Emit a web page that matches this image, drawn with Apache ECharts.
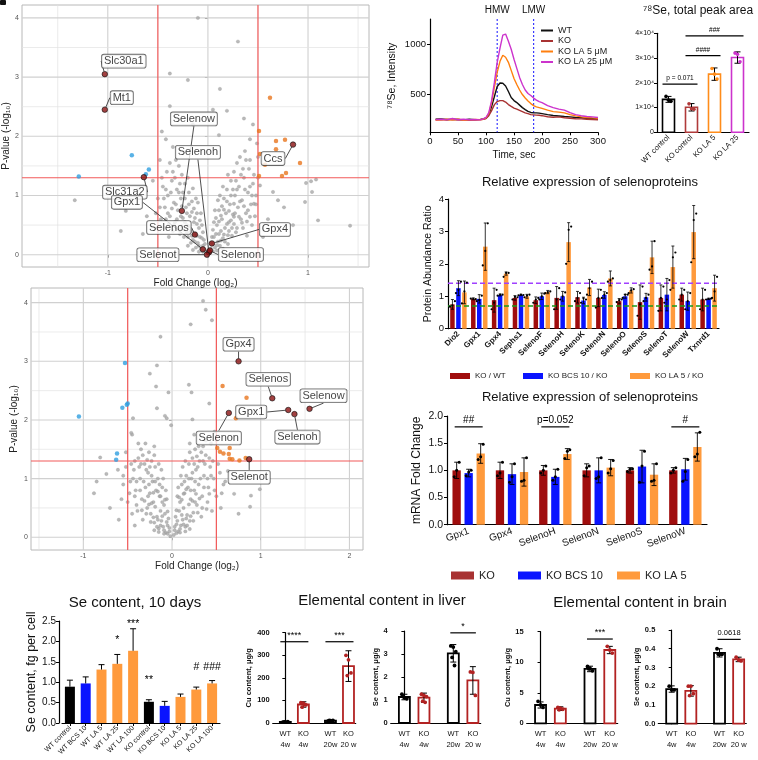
<!DOCTYPE html>
<html><head><meta charset="utf-8">
<script src="https://cdn.jsdelivr.net/npm/echarts@6/dist/echarts.min.js"></script>
<style>html,body{margin:0;padding:0;background:#fff}#c{width:758px;height:760px}</style>
</head><body><div id="c"></div>
<script>
const FONT = 'Liberation Sans, Arial, Helvetica, sans-serif';

// ================= DATA =================
// --- Volcano A (top-left) ---
const vA_gray = [[-0.1,4.0],[0.3,3.6],[-0.38,3.06],[-0.2,2.95],[0.12,2.8],[0.19,2.43],[-0.38,2.51],[-0.46,2.08],[0.11,2.02],[0.49,1.88],[-0.35,1.82],[1.03,1.24],[1.08,1.27],[0.98,1.21],[1.04,1.06],[0.97,0.89],[1.1,0.58],[1.42,0.49],[-1.33,0.92],[-0.82,0.74],[-0.87,0.4],[-0.61,0.65],[0.52,1.17],[0.65,1.06],[0.7,0.92],[0.46,0.86],[0.76,0.8],[0.26,0.64],[-0.7,1.1],[-0.55,1.25],[0.6,0.6],[0.85,0.5],[-0.65,0.35],[0.55,0.3],[-0.48,1.6],[-0.42,1.95],[0.45,2.2],[0.36,2.3],[-0.15,2.2],[0.05,2.45],[0.42,1.95],[0.5,1.65],
[-0.02,0.02],[-0.03,0.08],[-0.05,0.15],[-0.04,0.25],[-0.07,0.1],[-0.08,0.3],[-0.1,0.2],[-0.09,0.45],[-0.12,0.12],[-0.13,0.35],[-0.15,0.25],[-0.14,0.55],[-0.17,0.4],[-0.18,0.65],[-0.2,0.3],[-0.21,0.5],[-0.22,0.8],[-0.24,0.42],[-0.25,0.62],[-0.27,0.95],[-0.28,0.35],[-0.3,0.75],[-0.31,1.1],[-0.33,0.55],[-0.34,0.88],[-0.36,1.25],[-0.38,0.65],[-0.4,1.0],[-0.41,1.4],[-0.43,0.8],[-0.45,1.15],[-0.47,0.6],[-0.16,0.9],[-0.19,1.05],[-0.23,1.2],[-0.26,1.35],[-0.29,1.5],[-0.32,1.6],[-0.11,0.7],[-0.06,0.5],[-0.12,0.95],[-0.35,0.4],[-0.39,0.3],[-0.44,0.45],[-0.5,0.95],[-0.52,0.7],
[0.02,0.03],[0.03,0.1],[0.05,0.18],[0.04,0.3],[0.07,0.12],[0.08,0.35],[0.1,0.22],[0.09,0.5],[0.12,0.15],[0.13,0.4],[0.15,0.28],[0.14,0.6],[0.17,0.45],[0.18,0.7],[0.2,0.33],[0.21,0.55],[0.22,0.85],[0.24,0.45],[0.25,0.68],[0.27,1.0],[0.28,0.38],[0.3,0.8],[0.31,1.15],[0.33,0.6],[0.34,0.92],[0.36,1.3],[0.38,0.7],[0.4,1.05],[0.41,1.45],[0.43,0.85],[0.45,1.2],[0.47,0.65],[0.16,0.95],[0.19,1.1],[0.23,1.25],[0.26,1.4],[0.29,1.55],[0.32,1.65],[0.11,0.75],[0.06,0.55],[0.12,1.0],[0.35,0.45],[0.39,0.32],[0.44,0.5],[0.48,1.0],[0.5,1.3],[0.37,1.75],[0.42,1.6],
[-0.03,0.18],[-0.05,0.38],[-0.06,0.28],[-0.08,0.58],[-0.09,0.15],[-0.11,0.32],[-0.11,0.52],[-0.13,0.22],[-0.13,0.62],[-0.14,0.78],[-0.16,0.32],[-0.16,0.72],[-0.17,0.2],[-0.19,0.48],[-0.19,0.85],[-0.21,0.38],[-0.21,0.7],[-0.23,0.55],[-0.23,0.95],[-0.24,0.3],[-0.26,0.48],[-0.26,0.82],[-0.27,0.65],[-0.29,0.42],[-0.29,1.05],[-0.31,0.6],[-0.32,0.85],[-0.33,1.3],[-0.34,0.5],[-0.36,0.78],[-0.37,1.05],[-0.39,0.52],[-0.4,0.7],[-0.42,0.6],[-0.42,1.1],[-0.44,0.95],[-0.46,1.3],[-0.48,0.8],[-0.2,1.3],[-0.25,1.05],[-0.28,1.2],[-0.35,1.4],[-0.38,1.55],[-0.15,1.12],[-0.1,0.88],[-0.07,0.7],[-0.05,0.05],[-0.09,0.05],[-0.15,0.08],[-0.2,0.15],
[0.03,0.2],[0.05,0.42],[0.06,0.3],[0.08,0.62],[0.09,0.16],[0.11,0.35],[0.11,0.56],[0.13,0.24],[0.13,0.66],[0.14,0.82],[0.16,0.34],[0.16,0.76],[0.17,0.22],[0.19,0.52],[0.19,0.9],[0.21,0.4],[0.21,0.74],[0.23,0.58],[0.23,1.0],[0.24,0.32],[0.26,0.52],[0.26,0.86],[0.27,0.7],[0.29,0.45],[0.29,1.1],[0.31,0.64],[0.32,0.9],[0.33,1.35],[0.34,0.54],[0.36,0.82],[0.37,1.1],[0.39,0.56],[0.4,0.75],[0.42,0.64],[0.42,1.15],[0.44,1.0],[0.46,1.35],[0.48,0.85],[0.2,1.35],[0.25,1.1],[0.28,1.25],[0.35,1.45],[0.38,1.6],[0.15,1.15],[0.1,0.92],[0.07,0.75],[0.05,0.06],[0.09,0.07],[0.15,0.1],[0.2,0.18]];
const vA_up = [[0.62,2.65],[0.51,2.09],[0.68,1.92],[0.77,1.94],[0.68,1.78],[0.52,1.7],[0.57,1.52],[0.92,1.55],[0.51,1.33],[0.74,1.33],[0.78,1.38]];
const vA_down = [[-1.29,1.32],[-0.76,1.68],[-0.62,1.36],[-0.59,1.44]];
const vA_genes = ['Slc30a1','Mt1','Slc31a2','Gpx1','Selenow','Selenoh','Selenos','Selenot','Selenon','Gpx4','Ccs'];
const vA_fc = [-1.03,-1.03,-0.64,-0.05,-0.26,0.01,-0.13,-0.01,0.02,0.04,0.85];
const vA_p  = [3.05,2.45,1.31,0.09,0.74,0.04,0.34,0.0,0.07,0.19,1.86];
const vA_xTicks = [-1,0,1], vA_xMinor = [-1.5,-0.5,0.5,1.5];
const vA_yTicks = [0,1,2,3,4], vA_yMinor = [0.5,1.5,2.5,3.5];

// --- Volcano B (middle-left) ---
const vB_gray = [[0.35,4.03],[0.38,3.88],[0.45,3.7],[0.21,3.63],[-0.13,3.42],[-0.17,2.93],[-0.25,2.79],[-0.18,2.57],[0.19,2.6],[0.22,2.47],[-0.04,2.47],[0.42,2.28],[-0.17,2.2],[-0.08,2.07],[-0.06,2.03],[-0.44,2.03],[-0.01,1.91],[0.23,2.01],[0.99,0.82],[0.88,0.52],[-0.88,0.75],[-0.85,0.95],[-0.81,1.36],[-0.74,1.08],[-0.61,1.15],[0.89,0.71],[0.7,0.74],[0.78,1.02],[0.63,1.13],[-0.45,1.75],[-0.46,1.78],[0.48,1.8],[0.5,1.65],[-0.7,0.5],[-0.6,0.3],[0.75,0.4],[-0.55,0.9],[0.6,0.95],[-0.52,1.45],[-0.3,1.6],[0.25,1.75],[0.3,1.55],
[-0.02,0.02],[-0.03,0.1],[-0.05,0.2],[-0.04,0.32],[-0.07,0.08],[-0.08,0.4],[-0.1,0.18],[-0.09,0.55],[-0.12,0.28],[-0.13,0.45],[-0.15,0.15],[-0.14,0.7],[-0.17,0.35],[-0.18,0.8],[-0.2,0.25],[-0.21,0.6],[-0.22,0.95],[-0.24,0.4],[-0.25,0.75],[-0.27,1.1],[-0.28,0.5],[-0.3,0.85],[-0.31,1.25],[-0.33,0.3],[-0.34,0.65],[-0.36,1.0],[-0.38,1.35],[-0.4,0.55],[-0.41,0.8],[-0.43,1.15],[-0.45,0.4],[-0.47,0.95],[-0.16,1.0],[-0.19,1.2],[-0.23,1.3],[-0.26,1.45],[-0.11,0.85],[-0.06,0.65],[-0.35,1.5],[-0.5,0.6],[-0.52,1.2],[-0.12,1.15],[-0.2,1.55],[-0.42,0.2],
[0.02,0.04],[0.03,0.12],[0.05,0.22],[0.04,0.35],[0.07,0.1],[0.08,0.45],[0.1,0.2],[0.09,0.6],[0.12,0.3],[0.13,0.5],[0.15,0.18],[0.14,0.75],[0.17,0.38],[0.18,0.85],[0.2,0.28],[0.21,0.65],[0.22,1.0],[0.24,0.42],[0.25,0.8],[0.27,1.15],[0.28,0.55],[0.3,0.9],[0.31,1.3],[0.33,0.35],[0.34,0.7],[0.36,1.05],[0.38,1.4],[0.4,0.6],[0.41,0.85],[0.43,1.2],[0.45,0.45],[0.47,1.0],[0.16,1.05],[0.19,1.25],[0.23,1.35],[0.26,1.5],[0.11,0.9],[0.06,0.7],[0.35,1.55],[0.5,0.7],[0.52,1.25],[0.12,1.2],[0.2,1.6],[0.55,0.5],[0.58,0.9],[0.44,1.6],
[-0.03,0.16],[-0.05,0.44],[-0.06,0.26],[-0.08,0.64],[-0.09,0.12],[-0.11,0.36],[-0.11,0.6],[-0.13,0.2],[-0.13,0.7],[-0.14,0.9],[-0.16,0.3],[-0.16,0.78],[-0.17,0.18],[-0.19,0.52],[-0.19,0.95],[-0.21,0.34],[-0.21,0.76],[-0.23,0.58],[-0.23,1.05],[-0.24,0.26],[-0.26,0.56],[-0.26,0.9],[-0.27,0.7],[-0.29,0.4],[-0.29,1.15],[-0.31,0.62],[-0.32,0.95],[-0.33,1.4],[-0.34,0.46],[-0.36,0.8],[-0.37,1.2],[-0.39,0.45],[-0.4,0.95],[-0.42,0.7],[-0.42,1.3],[-0.44,1.0],[-0.46,1.25],[-0.48,0.75],[-0.2,1.4],[-0.25,1.2],[-0.28,1.32],[-0.35,1.25],[-0.38,1.6],[-0.15,1.25],[-0.1,1.0],[-0.07,0.8],[-0.05,0.06],[-0.09,0.06],[-0.15,0.09],[-0.2,0.12],
[0.03,0.18],[0.05,0.46],[0.06,0.28],[0.08,0.68],[0.09,0.14],[0.11,0.38],[0.11,0.64],[0.13,0.22],[0.13,0.74],[0.14,0.95],[0.16,0.32],[0.16,0.82],[0.17,0.2],[0.19,0.56],[0.19,1.0],[0.21,0.36],[0.21,0.8],[0.23,0.62],[0.23,1.1],[0.24,0.28],[0.26,0.6],[0.26,0.95],[0.27,0.74],[0.29,0.42],[0.29,1.2],[0.31,0.66],[0.32,1.0],[0.33,1.45],[0.34,0.5],[0.36,0.85],[0.37,1.25],[0.39,0.48],[0.4,1.0],[0.42,0.74],[0.42,1.35],[0.44,1.05],[0.46,1.3],[0.48,0.8],[0.2,1.45],[0.25,1.25],[0.28,1.38],[0.35,1.3],[0.38,1.65],[0.15,1.3],[0.1,1.05],[0.07,0.85],[0.05,0.07],[0.09,0.08],[0.15,0.1],[0.2,0.14],[0.54,1.1],[0.56,0.75],[-0.55,1.05],[-0.57,0.65]];
const vB_up = [[0.57,2.58],[0.84,2.38],[0.72,2.03],[0.51,1.52],[0.54,1.46],[0.58,1.43],[0.64,1.42],[0.65,1.52],[0.65,1.34],[0.68,1.33],[0.76,1.31],[0.83,1.35]];
const vB_down = [[-0.53,2.97],[-0.5,2.28],[-0.51,2.26],[-0.56,2.21],[-1.05,2.06],[-0.62,1.43],[-0.63,1.32]];
const vB_genes = ['Gpx4','Selenos','Selenow','Gpx1','Selenoh','Selenon','Selenot'];
const vB_fc = [0.75,1.13,1.55,1.31,1.38,0.64,0.87];
const vB_p  = [3.0,2.37,2.19,2.17,2.1,2.12,1.33];
const vB_xTicks = [-1,0,1,2], vB_xMinor = [-1.5,-0.5,0.5,1.5];
const vB_yTicks = [0,1,2,3,4], vB_yMinor = [0.5,1.5,2.5,3.5];
const volcanoCut = {fc:[-0.5,0.5], p:1.3};

// --- 78Se chromatogram ---
const timeSec = [10,20,30,40,50,60,70,80,90,95,100,105,110,115,120,125,130,135,140,145,150,155,160,165,170,175,180,185,190,195,200,210,220,230,240,250,260,270,280,290,300];
const seWT   = [255,258,250,256,252,248,255,250,253,258,265,300,380,480,580,615,612,585,530,470,440,420,395,370,350,332,322,318,318,315,310,300,292,287,282,278,272,270,265,262,260];
const seKO   = [252,250,255,248,252,250,245,250,252,255,262,290,340,400,430,440,440,425,400,382,365,355,342,330,318,310,300,298,296,294,290,280,275,278,270,265,260,258,255,252,250];
const seLA5  = [245,248,252,250,255,245,248,252,250,255,268,310,420,570,720,830,890,870,820,740,660,600,545,500,465,435,410,390,378,370,362,345,330,325,318,300,288,278,272,268,265];
const seLA25 = [250,255,248,262,250,255,250,252,248,258,272,320,440,620,820,960,1090,1100,1030,950,850,760,670,600,545,510,490,465,445,430,420,390,370,355,345,320,300,290,282,278,272];
const chromNames = ['WT','KO','KO LA 5 μM','KO LA 25 μM'];
const fractionBounds = [120,185], fractionNames = ['HMW','LMW'];
const chromYTicks = [500,1000];

// --- 78Se total peak area ---
const peakCats = ['WT control','KO control','KO LA 5','KO LA 25'];
const peakVals = [13300,10100,23500,30200];
const peakSd = [1200,1500,2500,2300];
const peakPts = [[14500,13000,12500],[11500,9500,9300],[25800,23500,21500],[32000,31500,28500]];
const peakSig = [{a:0,b:1,y:19500,t:'p = 0.071'},{a:1,b:2,y:31000,t:'####'},{a:1,b:3,y:39000,t:'###'}];

// --- Protein selenoproteins ---
const protCats = ['Dio2','Gpx1','Gpx4','Sephs1','SelenoF','SelenoH','SelenoK','SelenoN','SelenoO','SelenoS','SelenoT','SelenoW','Txnrd1'];
const protNames = ['KO / WT','KO BCS 10 / KO','KO LA 5 / KO'];
const protKO  = [0.75,0.92,0.88,0.95,0.88,0.95,0.97,0.95,0.85,0.82,0.95,1.05,0.9];
const protBCS = [1.25,0.92,1.04,1.04,1.0,1.0,0.87,1.04,1.0,0.97,1.05,0.85,0.92];
const protLA  = [1.12,2.53,1.7,1.0,1.13,2.67,1.27,1.55,1.18,2.2,1.9,2.98,1.25];
const protKOsd  = [0.15,0.03,0.37,0.07,0.1,0.35,0.18,0.27,0.08,0.53,0.4,0.2,0.35];
const protBCSsd = [0.23,0.13,0.03,0.02,0.1,0.15,0.1,0.1,0.06,0.12,0.5,0.28,0.02];
const protLAsd  = [0.35,0.73,0.05,0.06,0.05,0.6,0.25,0.23,0.08,0.5,0.65,0.82,0.4];
const protKOpts  = [[0.68,0.72,0.85],[0.93,0.92,0.91],[0.6,0.8,1.2],[0.9,0.98,0.97],[0.8,0.9,0.95],[0.6,0.9,1.25],[0.85,0.95,1.1],[0.65,0.95,1.2],[0.82,0.88,0.9],[0.4,0.75,1.3],[0.55,0.95,1.3],[0.9,1.05,1.2],[0.6,0.9,1.2]];
const protBCSpts = [[1.1,1.2,1.45],[0.85,0.88,1.02],[1.02,1.05,1.05],[1.03,1.05,1.04],[0.9,1.0,1.08],[0.9,1.0,1.12],[0.8,0.93,0.9],[0.95,1.05,1.1],[0.95,1.05,1.05],[0.85,0.95,1.05],[0.8,0.9,1.5],[0.6,0.85,1.1],[0.9,0.92,0.93]];
const protLApts  = [[0.78,1.15,1.42],[1.95,2.4,3.25],[1.6,1.72,1.72],[0.97,1.02,1.05],[1.1,1.13,1.15],[2.0,3.05,3.15],[1.05,1.25,1.45],[1.45,1.5,1.55],[1.1,1.18,1.22],[1.82,1.92,2.7],[1.2,2.2,2.35],[2.05,3.35,3.55],[0.95,1.15,1.6]];
const protThresholds = [1.4,0.7];

// --- mRNA selenoproteins ---
const mrnaCats = ['Gpx1','Gpx4','SelenoH','SelenoN','SelenoS','SelenoW'];
const mrnaNames = ['KO','KO BCS 10','KO LA 5'];
const mKO  = [1.0,1.0,1.0,1.0,1.0,1.0];
const mBCS = [0.95,0.93,0.88,1.0,1.07,1.02];
const mLA  = [1.31,0.97,1.3,1.05,0.92,1.43];
const mKOsd  = [0.15,0.15,0.09,0.12,0.05,0.05];
const mBCSsd = [0.07,0.19,0.14,0.23,0.3,0.2];
const mLAsd  = [0.18,0.26,0.1,0.15,0.2,0.26];
const mKOpts  = [[0.88,1.0,1.15],[0.9,0.95,1.15],[0.95,1.0,1.08],[0.9,1.05,1.08],[0.98,1.02,1.03],[0.95,1.0,1.05]];
const mBCSpts = [[0.9,0.97,1.0],[0.78,0.88,1.12],[0.82,0.88,1.02],[0.85,0.88,1.23],[0.78,1.08,1.35],[0.8,0.98,1.2]];
const mLApts  = [[1.2,1.25,1.48],[0.8,0.82,1.23],[1.22,1.35,1.38],[0.95,1.03,1.18],[0.8,0.82,1.12],[1.25,1.3,1.7]];
const mrnaSig = [{c:0,y:1.8,t:'##'},{c:2,y:1.8,t:'p=0.052'},{c:5,y:1.8,t:'#'}];

// --- Se content, 10 days ---
const seCats = ['WT control','WT BCS 10','WT LA 5','WT LA 25','WT LA 100','KO control','KO BCS 10','KO LA 5','KO LA 25','KO LA 100'];
const seVals = [0.89,0.97,1.31,1.45,1.77,0.52,0.42,0.64,0.82,0.97];
const seErr  = [0.16,0.16,0.12,0.23,0.54,0.05,0.11,0.07,0.06,0.07];
const seSigText = ['','','','*','***','**','','','#','###'];
const seSigY    = [0,0,0,2.02,2.42,1.05,0,0,1.38,1.38];

// --- Elemental content (liver / brain) ---
const metalCats = ['WT\n4w','KO\n4w','WT\n20w','KO\n20 w'];
const metalPos = [0,1,2.5,3.5];
const cuLiver = [5,82,10,252], cuLiverSd = [2,12,3,68];
const cuLiverPts = [[4,5,6,5],[90,88,80,70,82],[8,10,12,11],[300,280,222,210]];
const seLiver = [1.13,1.1,3.03,1.85], seLiverSd = [0.12,0.2,0.38,0.6];
const seLiverPts = [[1.25,1.1,1.05,1.15],[1.25,1.2,1.15,0.95,0.9],[3.35,3.3,3.1,2.85,2.5],[2.22,2.2,1.2]];
const cuBrain = [3.0,2.4,8.9,12.0], cuBrainSd = [0.5,0.3,0.45,0.6];
const cuBrainPts = [[3.6,3.0,2.6],[2.6,2.5,2.3,2.2],[9.3,9.0,8.6,8.9],[12.6,12.0,11.5]];
const seBrain = [0.185,0.175,0.378,0.343], seBrainSd = [0.017,0.028,0.022,0.012];
const seBrainPts = [[0.2,0.18,0.18],[0.2,0.2,0.16,0.15],[0.4,0.37,0.37,0.37],[0.355,0.34,0.335]];
const cuLiverSig = [{a:0,b:1,y:360,t:'****'},{a:2.5,b:3.5,y:360,t:'***'}];
const seLiverSig = [{a:2.5,b:3.5,y:3.92,t:'*'}];
const cuBrainSig = [{a:2.5,b:3.5,y:13.8,t:'***'}];
const seBrainSig = [{a:2.5,b:3.5,y:0.45,t:'0.0618'}];

// ================= LAYOUT / STYLE =================
const C = {red:'#a00d0d', blue:'#0a14ff', orange:'#ff9a3c', black:'#000', koOut:'#b22222', mag:'#cc33cc'};
const vA_shift = [[19,-13],[17,-12],[-19,15],[-76,-47],[12,-92],[-11,-100],[-26,-7],[-49,0],[31,4],[63,-14],[-20,14]];
const vB_shift = [[0,-17],[-4,-19],[14,-13],[-37,2],[3,23],[-10,25],[0,18]];
const JIT = [-2.5,0,2.5,-1.2,1.2];

const chart = echarts.init(document.getElementById('c'), null, {renderer:'canvas'});
const grid=[], xAxis=[], yAxis=[], series=[], legend=[], graphic=[];
function addPanel(g, xa, ya){
  grid.push(g); const gi = grid.length-1; xa.gridIndex = gi; ya.gridIndex = gi;
  xAxis.push(xa); yAxis.push(ya);
  return {xAxisIndex:xAxis.length-1, yAxisIndex:yAxis.length-1};
}
const tStyle = (s, extra) => Object.assign({fontSize:s, color:'#111', fontFamily:FONT}, extra||{});
function vLines(ax, vals, color, width, z, dash, labels){
  series.push(Object.assign({type:'custom', z, silent:true, data:vals.map(v=>[v,0]), encode:{x:0,y:1},
    renderItem(params, api){
      const cs = params.coordSys; const x = api.coord([api.value(0),0])[0];
      const ch = [{type:'line', shape:{x1:x,y1:cs.y,x2:x,y2:cs.y+cs.height}, style:{stroke:color, lineWidth:width, lineDash:dash||null}}];
      if (labels) ch.push({type:'text', style:{text:labels[params.dataIndex], x, y:cs.y-4, align:'center', textAlign:'center', verticalAlign:'bottom', textVerticalAlign:'bottom', font:'10px '+FONT, fill:'#111'}});
      return {type:'group', children:ch};
    }}, ax));
}
function hLines(ax, vals, color, width, z, dash){
  series.push(Object.assign({type:'custom', z, silent:true, data:vals.map(v=>[0,v]), encode:{x:0,y:1},
    renderItem(params, api){
      const cs = params.coordSys; const y = api.coord([0,api.value(1)])[1];
      return {type:'line', shape:{x1:cs.x,y1:y,x2:cs.x+cs.width,y2:y}, style:{stroke:color, lineWidth:width, lineDash:dash||null}};
    }}, ax));
}
function errBars(ax, data, offset, cap, upperOnly, lw){
  series.push(Object.assign({type:'custom', z:5, silent:true, data, encode:{x:0,y:[1,2]},
    renderItem(params, api){
      const a = api.coord([api.value(0),api.value(1)]), b = api.coord([api.value(0),api.value(2)]);
      const cx = a[0]+offset; const st = {stroke:'#000', lineWidth:lw||1};
      const ch = [{type:'line', shape:{x1:cx,y1:a[1],x2:cx,y2:b[1]}, style:st},
                  {type:'line', shape:{x1:cx-cap,y1:b[1],x2:cx+cap,y2:b[1]}, style:st}];
      if (!upperOnly) ch.push({type:'line', shape:{x1:cx-cap,y1:a[1],x2:cx+cap,y2:a[1]}, style:st});
      return {type:'group', children:ch};
    }}, ax));
}
function dots(ax, pts, posOf, offset, colorOf, r){
  const data = []; pts.forEach((arr,i)=>arr.forEach((v,k)=>data.push([posOf(i), v, k, i])));
  series.push(Object.assign({type:'custom', z:6, silent:true, data, encode:{x:0,y:1},
    renderItem(params, api){
      const p = api.coord([api.value(0),api.value(1)]); const k = api.value(2);
      return {type:'circle', shape:{cx:p[0]+offset+JIT[k%5], cy:p[1], r:r||1.6}, style:{fill:colorOf(api.value(3))}};
    }}, ax));
}
function hollowBars(ax, pos, vals, colorOf, w, bw){
  series.push(Object.assign({type:'custom', z:3, silent:true, data:vals.map((v,i)=>[pos(i),v,i]), encode:{x:0,y:1},
    renderItem(params, api){
      const p0 = api.coord([api.value(0),0]), p1 = api.coord([api.value(0),api.value(1)]);
      return {type:'rect', shape:{x:p0[0]-w/2, y:p1[1], width:w, height:p0[1]-p1[1]},
        style:{fill:'#fff', stroke:colorOf(api.value(2)), lineWidth:bw}};
    }}, ax));
}
function sigLines(ax, items, fs, pad1, pad2){
  series.push(Object.assign({type:'custom', z:7, silent:true, data:items.map(d=>[d.a,d.b,d.y]), encode:{x:[0,1],y:2},
    renderItem(params, api){
      const d = items[params.dataIndex];
      const p1 = api.coord([api.value(0),api.value(2)]), p2 = api.coord([api.value(1),api.value(2)]);
      const x1 = p1[0]+pad1, x2 = p2[0]+pad2;
      return {type:'group', children:[
        {type:'line', shape:{x1,y1:p1[1],x2,y2:p1[1]}, style:{stroke:'#000', lineWidth:1.2}},
        {type:'text', style:{text:d.t, x:(x1+x2)/2, y:p1[1]-2, align:'center', textAlign:'center', verticalAlign:'bottom', textVerticalAlign:'bottom', font:fs+'px '+FONT, fill:'#000'}}]};
    }}, ax));
}
function texts(ax, data, fs){
  series.push(Object.assign({type:'custom', z:7, silent:true, data:data.map(d=>[d[0],d[1]]), encode:{x:0,y:1},
    renderItem(params, api){
      const p = api.coord([api.value(0),api.value(1)]);
      return {type:'text', style:{text:data[params.dataIndex][2], x:p[0], y:p[1], align:'center', textAlign:'center', verticalAlign:'middle', textVerticalAlign:'middle', font:fs+'px '+FONT, fill:'#000'}};
    }}, ax));
}

// ---------- Volcano builder ----------
function volcano(rect, xr, yr, xT, xM, yT, yM, gray, up, down, genes, fc, pv, shifts, xNameGap, yNameGap){
  const ax = addPanel({left:rect[0], top:rect[1], width:rect[2], height:rect[3], show:true, borderColor:'#b8b8b8', borderWidth:1, backgroundColor:'#fff'},
    {type:'value', min:xr[0], max:xr[1], splitLine:{show:false}, axisLine:{show:false},
     axisTick:{show:true, customValues:xT, length:3, lineStyle:{color:'#888'}},
     axisLabel:{customValues:xT, fontSize:7, color:'#555', margin:3, fontFamily:FONT},
     name:'Fold Change (log₂)', nameLocation:'middle', nameGap:xNameGap, nameTextStyle:tStyle(10,{color:'#222'})},
    {type:'value', min:yr[0], max:yr[1], splitLine:{show:false}, axisLine:{show:false},
     axisTick:{show:true, customValues:yT, length:3, lineStyle:{color:'#888'}},
     axisLabel:{customValues:yT, fontSize:7, color:'#555', margin:3, fontFamily:FONT},
     name:'P-value (-log₁₀)', nameLocation:'middle', nameGap:yNameGap, nameTextStyle:tStyle(10,{color:'#222'})});
  vLines(ax, xM, '#e3e3e3', 0.7, 1); vLines(ax, xT, '#d0d0d0', 1.1, 1);
  hLines(ax, yM, '#e3e3e3', 0.7, 1); hLines(ax, yT, '#d0d0d0', 1.1, 1);
  series.push(Object.assign({type:'scatter', z:2, silent:true, symbolSize:3.4, data:gray,
    itemStyle:{color:'#a8a8a8', borderColor:'#8c8c8c', borderWidth:0.3}}, ax));
  vLines(ax, volcanoCut.fc, '#f25a5a', 1.2, 3); hLines(ax, [volcanoCut.p], '#f25a5a', 1.2, 3);
  series.push(Object.assign({type:'scatter', z:4, silent:true, symbolSize:4.5, data:up, itemStyle:{color:'#e8761e'}}, ax));
  series.push(Object.assign({type:'scatter', z:4, silent:true, symbolSize:4.5, data:down, itemStyle:{color:'#2f9fe0'}}, ax));
  series.push(Object.assign({type:'scatter', z:6, silent:true, symbolSize:5.5,
    data:genes.map((g,i)=>({name:g, value:[fc[i], pv[i]]})),
    itemStyle:{color:'#8b1212', borderColor:'#111', borderWidth:0.8},
    label:{show:true, position:'inside', formatter:'{b}', fontSize:11, color:'#111', fontFamily:FONT,
      backgroundColor:'#fff', borderColor:'#444', borderWidth:0.8, borderRadius:2, padding:[1,2]},
    labelLine:{show:true, lineStyle:{color:'#222', width:0.8}},
    labelLayout:(p)=>({dx:shifts[p.dataIndex][0], dy:shifts[p.dataIndex][1]})}, ax));
}
volcano([21,5,348,262], [-1.857,1.609], [-0.208,4.218], vA_xTicks, vA_xMinor, vA_yTicks, vA_yMinor,
  vA_gray, vA_up, vA_down, vA_genes, vA_fc, vA_p, vA_shift, 10, 11);
volcano([31,288,332,262], [-1.59,2.153], [-0.217,4.25], vB_xTicks, vB_xMinor, vB_yTicks, vB_yMinor,
  vB_gray, vB_up, vB_down, vB_genes, vB_fc, vB_p, vB_shift, 9, 12);

// ---------- Chromatogram ----------
const blackAxis = {lineStyle:{color:'#000', width:1.2}};
{
  const ax = addPanel({left:430, top:19, width:168, height:113.3},
    {type:'value', min:0, max:300, interval:50, splitLine:{show:false}, axisLine:blackAxis,
     axisTick:{length:3, lineStyle:{color:'#000'}}, axisLabel:{fontSize:9.5, color:'#111', margin:4, fontFamily:FONT},
     name:'Time, sec', nameLocation:'middle', nameGap:18, nameTextStyle:tStyle(10)},
    {type:'value', min:125, max:1250, splitLine:{show:false}, axisLine:Object.assign({show:true}, blackAxis),
     axisTick:{show:true, customValues:chromYTicks, length:3, lineStyle:{color:'#000'}},
     axisLabel:{customValues:chromYTicks, fontSize:9.5, color:'#111', margin:4, fontFamily:FONT, formatter:v=>String(v)},
     name:'⁷⁸Se, Intensity', nameLocation:'middle', nameGap:32, nameTextStyle:tStyle(10.5)});
  const cols = ['#111','#a83232','#ff7f0e','#cc33cc'];
  [seWT,seKO,seLA5,seLA25].forEach((arr,si)=>{
    series.push(Object.assign({type:'line', name:chromNames[si], z:4, silent:true, showSymbol:false,
      data:timeSec.map((t,i)=>[t,arr[i]]), lineStyle:{color:cols[si], width:1.4}, itemStyle:{color:cols[si]}}, ax));
  });
  vLines(ax, fractionBounds, '#3b3bff', 1.2, 3, [2,2], fractionNames);
  legend.push({data:chromNames, orient:'vertical', left:541, top:26, padding:0, itemWidth:12, itemHeight:2, itemGap:1.5, icon:'rect',
    selectedMode:false, textStyle:tStyle(9,{color:'#222'})});
}

// ---------- Peak area bars ----------
{
  const ax = addPanel({left:657, top:33.3, width:92, height:99},
    {type:'category', data:peakCats, axisLine:blackAxis, axisTick:{show:false},
     axisLabel:{interval:0, rotate:45, fontSize:7.5, color:'#111', margin:4, fontFamily:FONT}},
    {type:'value', min:0, max:40000, interval:10000, splitLine:{show:false}, axisLine:Object.assign({show:true}, blackAxis),
     axisTick:{show:true, length:3, lineStyle:{color:'#000'}},
     axisLabel:{fontSize:7, color:'#111', margin:3, fontFamily:FONT, formatter:v=>v===0?'0':(v/10000)+'×10⁴'}});
  const cols = ['#000','#b03a3a','#ff8c1a','#cc33cc'];
  hollowBars(ax, i=>i, peakVals, i=>cols[i], 12, 1.6);
  errBars(ax, peakVals.map((v,i)=>[i,v-peakSd[i],v+peakSd[i]]), 0, 3, false, 1);
  dots(ax, peakPts, i=>i, 0, i=>cols[i], 1.8);
  sigLines(ax, peakSig, 6.5, -6, 6);
}

// ---------- Protein selenoproteins ----------
{
  const ax = addPanel({left:448, top:199, width:271, height:129.7},
    {type:'category', data:protCats, axisLine:blackAxis, axisTick:{show:false},
     axisLabel:{interval:0, rotate:45, fontSize:8, fontWeight:'bold', color:'#111', margin:4, fontFamily:FONT}},
    {type:'value', min:0, max:4, interval:1, splitLine:{show:false}, axisLine:Object.assign({show:true}, blackAxis),
     axisTick:{show:true, length:3, lineStyle:{color:'#000'}}, axisLabel:{fontSize:9.5, color:'#111', margin:4, fontFamily:FONT},
     name:'Protein Abundance Ratio', nameLocation:'middle', nameGap:14, nameTextStyle:tStyle(10.5)});
  const sets = [[protKO,protKOsd,protKOpts,C.red],[protBCS,protBCSsd,protBCSpts,C.blue],[protLA,protLAsd,protLApts,C.orange]];
  sets.forEach((s,si)=>series.push(Object.assign({type:'bar', name:protNames[si], z:3, silent:true, data:s[0], barWidth:4.5, barGap:'33%',
    itemStyle:{color:s[3]}}, ax)));
  hLines(ax, [protThresholds[0]], '#a040ff', 1.4, 4, [5,3]);
  hLines(ax, [protThresholds[1]], '#1a9a1a', 1.4, 4, [5,3]);
  sets.forEach((s,si)=>{
    const off = (si-1)*6;
    errBars(ax, s[0].map((v,i)=>[i,v-s[1][i],v+s[1][i]]), off, 1.5, false, 0.8);
    dots(ax, s[2], i=>i, off, ()=>'#000', 1.1);
  });
  [0,1,2].forEach(si=>legend.push({data:[protNames[si]], left:[450,523,630][si], top:372, padding:0, itemWidth:20, itemHeight:6,
    icon:'rect', selectedMode:false, textStyle:tStyle(8,{color:'#222'})}));
}

// ---------- mRNA selenoproteins ----------
{
  const ax = addPanel({left:447, top:416, width:260, height:108.7},
    {type:'category', data:mrnaCats, axisLine:blackAxis, axisTick:{show:false},
     axisLabel:{interval:0, rotate:20, fontSize:10, color:'#111', margin:6, fontFamily:FONT}},
    {type:'value', min:0, max:2, interval:0.5, splitLine:{show:false}, axisLine:Object.assign({show:true}, blackAxis),
     axisTick:{show:true, length:3, lineStyle:{color:'#000'}},
     axisLabel:{fontSize:10.5, color:'#111', margin:4, fontFamily:FONT, formatter:v=>v.toFixed(1)},
     name:'mRNA Fold Change', nameLocation:'middle', nameGap:24, nameTextStyle:tStyle(12)});
  const sets = [[mKO,mKOsd,mKOpts,C.red],[mBCS,mBCSsd,mBCSpts,C.blue],[mLA,mLAsd,mLApts,C.orange]];
  sets.forEach((s,si)=>series.push(Object.assign({type:'bar', name:mrnaNames[si], z:3, silent:true, data:s[0], barWidth:8.3, barGap:'45%',
    itemStyle:{color:s[3]}}, ax)));
  sets.forEach((s,si)=>{
    const off = (si-1)*12;
    errBars(ax, s[0].map((v,i)=>[i,v-s[1][i],v+s[1][i]]), off, 2.5, false, 0.9);
    dots(ax, s[2], i=>i, off, ()=>'#000', 1.5);
  });
  sigLines(ax, mrnaSig.map(d=>({a:d.c,b:d.c,y:d.y,t:d.t})), 10, -14, 14);
  [0,1,2].forEach(si=>legend.push({data:[mrnaNames[si]], left:[451,518,617][si], top:570, padding:0, itemWidth:23, itemHeight:8,
    icon:'rect', selectedMode:false, textStyle:tStyle(11,{color:'#222'})}));
}

// ---------- Se content ----------
{
  const ax = addPanel({left:62, top:621, width:158, height:102},
    {type:'category', data:seCats, axisLine:blackAxis, axisTick:{show:true, alignWithLabel:true, length:3, lineStyle:{color:'#000'}},
     axisLabel:{interval:0, rotate:45, fontSize:7, color:'#111', margin:4, fontFamily:FONT}},
    {type:'value', min:0, max:2.5, interval:0.5, offset:3, splitLine:{show:false}, axisLine:Object.assign({show:true}, blackAxis),
     axisTick:{show:true, length:3, lineStyle:{color:'#000'}},
     axisLabel:{fontSize:10, color:'#111', margin:3, fontFamily:FONT, formatter:v=>v.toFixed(1)},
     name:'Se content, fg per cell', nameLocation:'middle', nameGap:20, nameTextStyle:tStyle(12.5)});
  const colOf = i => (seCats[i].indexOf('control')>=0 ? C.black : (seCats[i].indexOf('BCS')>=0 ? C.blue : C.orange));
  series.push(Object.assign({type:'bar', name:'Se content', z:3, silent:true, barWidth:10,
    data:seVals.map((v,i)=>({value:v, itemStyle:{color:colOf(i)}}))}, ax));
  errBars(ax, seVals.map((v,i)=>[i,v,v+seErr[i]]), 0, 3, true, 1);
  texts(ax, seSigText.map((t,i)=>[i,seSigY[i],t]).filter(d=>d[2]), 10.5);
}

// ---------- Liver / brain ----------
function metalPanel(rect, ymax, yint, yname, nameGap, vals, sd, pts, sig, sigFs, fmt, pad){
  const ax = addPanel({left:rect[0], top:rect[1], width:rect[2], height:rect[3]},
    {type:'value', min:-0.7, max:3.9, splitLine:{show:false}, axisLine:blackAxis,
     axisTick:{show:true, customValues:metalPos, length:0},
     axisLabel:{customValues:metalPos, fontSize:7.5, lineHeight:11, color:'#111', margin:5, fontFamily:FONT,
       formatter:v=>{const k = metalPos.indexOf(v); return k>=0 ? metalCats[k] : '';}}},
    {type:'value', min:0, max:ymax, interval:yint, splitLine:{show:false}, axisLine:Object.assign({show:true}, blackAxis),
     axisTick:{show:true, length:3, lineStyle:{color:'#000'}},
     axisLabel:{fontSize:7.5, fontWeight:'bold', color:'#111', margin:3, fontFamily:FONT, formatter:fmt},
     name:yname, nameLocation:'middle', nameGap, nameTextStyle:tStyle(7.5,{fontWeight:'bold'})});
  const colOf = i => (i%2===0 ? '#000' : C.koOut);
  hollowBars(ax, i=>metalPos[i], vals, colOf, 11, 1.8);
  errBars(ax, vals.map((v,i)=>[metalPos[i], v-sd[i], v+sd[i]]), 0, 3, false, 1);
  dots(ax, pts, i=>metalPos[i], 0, colOf, 1.9);
  sigLines(ax, sig, sigFs, -pad, pad);
}
metalPanel([272.7,632.7,83,90.3], 400, 100, 'Cu content, μg/g', 14, cuLiver, cuLiverSd, cuLiverPts, cuLiverSig, 9, v=>v, 5);
metalPanel([390.7,631,90,92], 4, 1, 'Se content, μg/g', 6, seLiver, seLiverSd, seLiverPts, seLiverSig, 9, v=>v, 3);
metalPanel([526.7,631.7,91,91.6], 15, 5, 'Cu content, μg/g', 13, cuBrain, cuBrainSd, cuBrainPts, cuBrainSig, 9, v=>v, 3);
metalPanel([658.3,630,88,93.7], 0.5, 0.1, 'Se content, μg/g', 16, seBrain, seBrainSd, seBrainPts, seBrainSig, 7.5, v=>v.toFixed(1), 2);

// ---------- Titles ----------
function title(text, x, y, fs){
  graphic.push({type:'text', silent:true, z:10, style:{text, x, y, font:fs+'px '+FONT, fill:'#111',
    textAlign:'center', align:'center', textVerticalAlign:'middle', verticalAlign:'middle'}});
}
title('⁷⁸Se, total peak area', 698, 11, 12);
title('Relative expression of selenoproteins', 590, 182, 13);
title('Relative expression of selenoproteins', 590, 397, 13);
title('Se content, 10 days', 135, 603, 15);
title('Elemental content in liver', 382, 601, 15);
title('Elemental content in brain', 640, 603, 15);
graphic.push({type:'rect', silent:true, z:10, shape:{x:0,y:0,width:6,height:5,r:1}, style:{fill:'#111'}});

chart.setOption({animation:false, textStyle:{fontFamily:FONT}, grid, xAxis, yAxis, series, legend, graphic});
</script></body></html>
